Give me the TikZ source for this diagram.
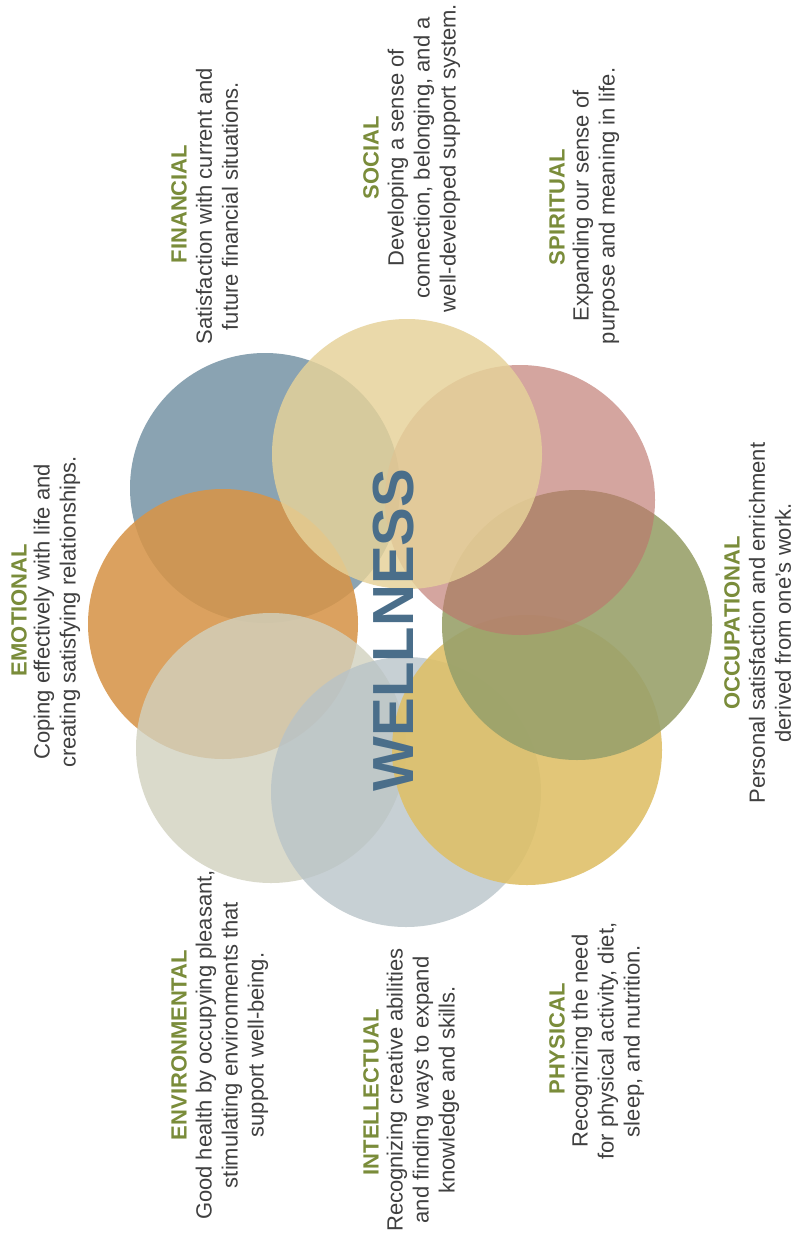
\documentclass[tikz,border=0pt]{standalone}
\usepackage{fontspec}
\setmainfont{Liberation Sans}
\definecolor{finC}{RGB}{138,163,178}
\definecolor{emoC}{RGB}{215,149,73}
\definecolor{envC}{RGB}{209,209,191}
\definecolor{intC}{RGB}{184,195,200}
\definecolor{phyC}{RGB}{222,191,102}
\definecolor{occC}{RGB}{153,161,107}
\definecolor{spiC}{RGB}{189,118,109}
\definecolor{socC}{RGB}{230,210,153}
\definecolor{headC}{RGB}{122,140,58}
\definecolor{bodyC}{RGB}{64,64,64}
\definecolor{wellC}{RGB}{74,110,138}
\begin{document}
\begin{tikzpicture}[x=0.5pt,y=-0.5pt,
  disc/.style={circle,minimum size=135pt,inner sep=0pt,draw=none},
  hd/.style={rotate=90,font=\fontsize{11}{13}\selectfont\bfseries,text=headC,inner sep=0pt},
  ds/.style={rotate=90,font=\fontsize{11}{13}\selectfont,text=bodyC,align=center,inner sep=0pt},
  well/.style={rotate=90,font=\fontsize{29}{29}\selectfont\bfseries,text=wellC,inner sep=0pt}]
\fill[white] (0,0) rectangle (796,1236);
\useasboundingbox (0,0) rectangle (796,1236);
% circles, bottom to top
\node[disc,fill=finC] (cfin) at (265,488) {};
\node[disc,fill=emoC,fill opacity=0.88] (cemo) at (223,624) {};
\node[disc,fill=envC,fill opacity=0.8] (cenv) at (271,748) {};
\node[disc,fill=intC,fill opacity=0.78] (cint) at (406,792) {};
\node[disc,fill=phyC,fill opacity=0.88] (cphy) at (527,750) {};
\node[disc,fill=occC,fill opacity=0.9] (cocc) at (577,625) {};
\node[disc,fill=spiC,fill opacity=0.65] (cspi) at (520,500) {};
\node[disc,fill=socC,fill opacity=0.83] (csoc) at (407,454) {};
% centre word
\node[well] (wellness) at (394,630) {WELLNESS};
% labels
\node[hd] (hfin) at (179,204) {FINANCIAL};
\node[ds] (dfin) at (217,206) {Satisfaction with current and\\future financial situations.};
\node[hd] (hsoc) at (371,158) {SOCIAL};
\node[ds] (dsoc) at (424,158) {Developing a sense of\\connection, belonging, and a\\well-developed support system.};
\node[hd] (hspi) at (557,207) {SPIRITUAL};
\node[ds] (dspi) at (596,206) {Expanding our sense of\\purpose and meaning in life.};
\node[hd] (hocc) at (732,623) {OCCUPATIONAL};
\node[ds] (docc) at (770,623) {Personal satisfaction and enrichment\\derived from one’s work.};
\node[hd] (hphy) at (557,1039) {PHYSICAL};
\node[ds] (dphy) at (608,1041) {Recognizing the need\\for physical activity, diet,\\sleep, and nutrition.};
\node[hd] (hint) at (371,1092) {INTELLECTUAL};
\node[ds] (dint) at (423,1090) {Recognizing creative abilities\\and finding ways to expand\\knowledge and skills.};
\node[hd] (henv) at (179,1045) {ENVIRONMENTAL};
\node[ds] (denv) at (232,1045) {Good health by occupying pleasant,\\stimulating environments that\\support well-being.};
\node[hd] (hemo) at (19,610) {EMOTIONAL};
\node[ds] (demo) at (57,612) {Coping effectively with life and\\creating satisfying relationships.};
\end{tikzpicture}
\end{document}
